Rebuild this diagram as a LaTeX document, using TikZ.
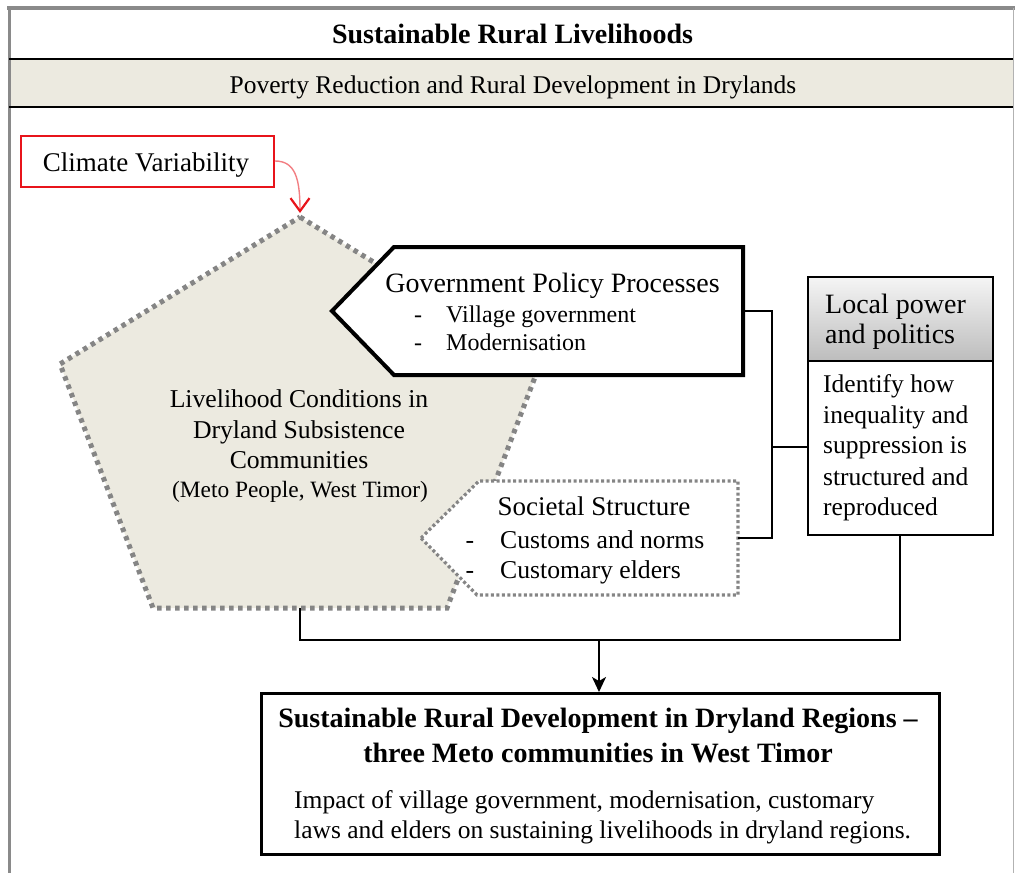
\documentclass[tikz,border=0pt]{standalone}
\usepackage{fontspec}
\setmainfont{Liberation Serif}
\usetikzlibrary{arrows.meta}
\definecolor{sand}{HTML}{ECEAE0}
\definecolor{framegray}{HTML}{8A8A8A}
\definecolor{dotgray}{HTML}{858585}
\definecolor{alertred}{HTML}{E8141B}
\newcommand\txtsz[2]{\fontsize{#1}{#2}\selectfont}

\begin{document}
\begin{tikzpicture}[x=1pt,y=-1pt,
  lbl/.style={inner sep=0pt, anchor=base},
  lblw/.style={inner sep=0pt, anchor=base west},
  link/.style={line width=2pt, black},
  dotline/.style={draw=dotgray, dash pattern=on 4.5pt off 4.5pt, line width=5pt},
  fineline/.style={draw=dotgray, dash pattern=on 3pt off 2.5pt, line width=3.2pt},
  boxed/.style={draw, inner sep=0pt, anchor=north west}]
\useasboundingbox (0,0) rectangle (1015,873);

% page frame and heading bands
\fill[sand] (9,59) rectangle (1013,107);
\draw[framegray, line width=4pt] (7,8) -- (1015,8);
\draw[framegray, line width=3pt] (9,6) -- (9,873);
\draw[gray!60, line width=1.2pt] (1013.5,8) -- (1013.5,873);
\draw[black, line width=2.8pt] (9,59) -- (1013,59);
\draw[black, line width=2.8pt] (9,107) -- (1013,107);
\node[lbl] (title) at (512.5,43) {\txtsz{28}{32}\bfseries Sustainable Rural Livelihoods};
\node[lbl] (subtitle) at (513,93) {\txtsz{25.5}{30}Poverty Reduction and Rural Development in Drylands};

% livelihood pentagon
\coordinate (pTop) at (300,217);
\coordinate (pR) at (540,364);
\coordinate (pBR) at (447,608);
\coordinate (pBL) at (153,608);
\coordinate (pL) at (60,364);
\coordinate (pBot) at (300,608);
\path[fill=sand, dotline] (pTop) -- (pR) -- (pBR) -- (pBL) -- (pL) -- cycle;
\node[lbl] (live1) at (299,407) {\txtsz{25.7}{31}Livelihood Conditions in};
\node[lbl] (live2) at (299,438) {\txtsz{25.7}{31}Dryland Subsistence};
\node[lbl] (live3) at (299,468) {\txtsz{25.7}{31}Communities};
\node[lbl] (live4) at (300,497) {\txtsz{23.4}{28}(Meto People, West Timor)};

% climate variability
\node[draw=alertred, line width=2pt, minimum width=253pt, minimum height=51pt, inner sep=0pt] (climate) at (147.5,161) {};
\node[lbl] (climatetxt) at (146,171) {\txtsz{27}{31}Climate Variability};
\draw[alertred!55, line width=1.4pt, shorten >=4pt,
      -{Straight Barb[length=13pt,width=19pt,line width=2.2pt,color=alertred]}]
  (climate.east) .. controls (295,161) and (300,178) .. (pTop);

% government policy processes
\coordinate (gTip) at (332,311);
\coordinate (gTL) at (394,247);
\coordinate (gTR) at (743,247);
\coordinate (gBR) at (743,375);
\coordinate (gBL) at (394,375);
\coordinate (gE) at (743,311);
\filldraw[fill=white, draw=black, line width=4pt, line join=miter] (gTip) -- (gTL) -- (gTR) -- (gBR) -- (gBL) -- cycle;
\node[lbl] (govtitle) at (552.5,292) {\txtsz{28}{32}Government Policy Processes};
\node[lbl] (govdash1) at (418,322) {\txtsz{24}{28}-};
\node[lblw] (govitem1) at (446,322) {\txtsz{24}{28}Village government};
\node[lbl] (govdash2) at (418,350) {\txtsz{24}{28}-};
\node[lblw] (govitem2) at (446,350) {\txtsz{24}{28}Modernisation};

% societal structure
\coordinate (sTip) at (421,538);
\coordinate (sTL) at (479,481);
\coordinate (sTR) at (738,481);
\coordinate (sBR) at (738,595);
\coordinate (sBL) at (477,595);
\coordinate (sE) at (738,538);
\path[fill=white, fineline] (sTip) -- (sTL) -- (sTR) -- (sBR) -- (sBL) -- cycle;
\node[lbl] (soctitle) at (594,515) {\txtsz{27}{31}Societal Structure};
\node[lbl] (socdash1) at (470,548) {\txtsz{25.7}{30}-};
\node[lblw] (socitem1) at (500,548) {\txtsz{25.7}{30}Customs and norms};
\node[lbl] (socdash2) at (470,578) {\txtsz{25.7}{30}-};
\node[lblw] (socitem2) at (500,578) {\txtsz{25.7}{30}Customary elders};

% local power and politics
\node[boxed, fill=white, line width=1.8pt, minimum width=185pt, minimum height=174pt] (locbody) at (807,360) {};
\node[boxed, line width=1.8pt, top color=gray!8, bottom color=gray!52, minimum width=185pt, minimum height=84pt] (lochead) at (807,276) {};
\node[lblw] (loch1) at (825,313) {\txtsz{28}{32}Local power};
\node[lblw] (loch2) at (825,343) {\txtsz{28}{32}and politics};
\node[lblw] (locb1) at (823,392) {\txtsz{25.5}{31}Identify how};
\node[lblw] (locb2) at (823,423) {\txtsz{25.5}{31}inequality and};
\node[lblw] (locb3) at (823,453) {\txtsz{25.5}{31}suppression is};
\node[lblw] (locb4) at (823,485) {\txtsz{25.5}{31}structured and};
\node[lblw] (locb5) at (823,515) {\txtsz{25.5}{31}reproduced};

% outcome
\node[boxed, line width=2.5pt, minimum width=678pt, minimum height=161pt] (outcome) at (260,692) {};
\node[lbl] (outt1) at (598,727) {\txtsz{28}{34}\bfseries Sustainable Rural Development in Dryland Regions \textendash};
\node[lbl] (outt2) at (598,762) {\txtsz{28}{34}\bfseries three Meto communities in West Timor};
\node[lblw] (outb1) at (294,808) {\txtsz{25.5}{30}Impact of village government, modernisation, customary};
\node[lblw] (outb2) at (294,838) {\txtsz{25.5}{30}laws and elders on sustaining livelihoods in dryland regions.};

% connectors
\coordinate (bus) at (772,447);
\coordinate (merge) at (599,640);
\draw[link] (gE) -| (bus) |- (sE);
\draw[link] (bus) -- (bus -| locbody.west);
\draw[link] (pBot) |- (merge) -| (locbody.south);
\draw[link, -{Stealth[length=15pt,width=14pt,inset=4pt]}] (merge) -- (merge |- outcome.north);
\end{tikzpicture}
\end{document}
